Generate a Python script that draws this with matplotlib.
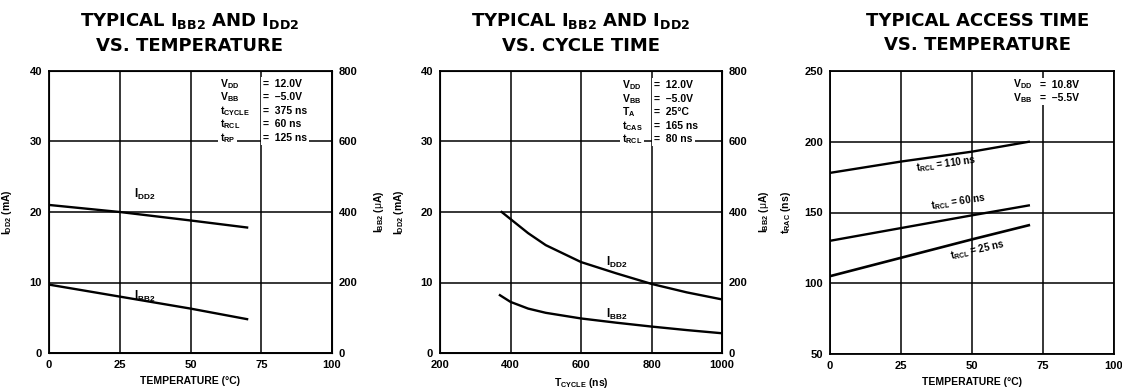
import numpy as np
import matplotlib.pyplot as plt

plt.rcParams['font.family'] = ['Liberation Sans', 'DejaVu Sans']
plt.rcParams['mathtext.fontset'] = 'custom'
plt.rcParams['mathtext.rm'] = 'Liberation Sans'
plt.rcParams['mathtext.bf'] = 'Liberation Sans:bold'
plt.rcParams['mathtext.it'] = 'Liberation Sans'

# panel 1: currents vs temperature
temp1 = [0, 25, 50, 70]
idd2_temp = [21.0, 20.0, 18.8, 17.8]      # mA
ibb2_temp = [194, 160, 126, 96]           # uA

# panel 2: currents vs cycle time
cycle = [375, 400, 450, 500, 600, 700, 800, 900, 1000]
idd2_cycle = [20.0, 19.0, 17.0, 15.3, 12.9, 11.3, 9.8, 8.6, 7.6]   # mA
cycle_b = [370, 400, 450, 500, 600, 700, 800, 900, 1000]
ibb2_cycle = [164, 145, 126, 114, 98, 86, 75, 65, 56]              # uA

# panel 3: access time vs temperature
temp3 = [0, 25, 50, 70]
trac_110 = [178, 186, 193, 200]
trac_60 = [130, 139, 148, 155]
trac_25 = [105, 118, 131, 141]

# test conditions printed in the corner of each panel
cond1 = [('V$_{\\mathbf{DD}}$', '=  12.0V'), ('V$_{\\mathbf{BB}}$', '=  –5.0V'),
         ('t$_{\\mathbf{CYCLE}}$', '=  375 ns'), ('t$_{\\mathbf{RCL}}$', '=  60 ns'),
         ('t$_{\\mathbf{RP}}$', '=  125 ns')]
cond2 = [('V$_{\\mathbf{DD}}$', '=  12.0V'), ('V$_{\\mathbf{BB}}$', '=  –5.0V'),
         ('T$_{\\mathbf{A}}$', '=  25°C'), ('t$_{\\mathbf{CAS}}$', '=  165 ns'),
         ('t$_{\\mathbf{RCL}}$', '=  80 ns')]
cond3 = [('V$_{\\mathbf{DD}}$', '=  10.8V'), ('V$_{\\mathbf{BB}}$', '=  –5.5V')]

W, H = 1122, 391
fig = plt.figure(figsize=(W / 100, H / 100), dpi=100)
bf = dict(fontweight='bold')


def px_axes(l, t, r, b):
    return fig.add_axes([l / W, 1 - b / H, (r - l) / W, (b - t) / H])


def style(ax, xt, yt):
    ax.set_xticks(xt)
    ax.set_yticks(yt)
    ax.grid(True, color='black', linewidth=1.1)
    ax.tick_params(length=0, labelsize=8, pad=5)
    for lab in ax.get_xticklabels() + ax.get_yticklabels():
        lab.set_fontweight('bold')
    for s in ax.spines.values():
        s.set_linewidth(1.3)


def right_axis(ax):
    axb = ax.twinx()
    axb.set_ylim(0, 800)
    axb.set_yticks([0, 200, 400, 600, 800])
    axb.tick_params(length=0, labelsize=8, pad=5)
    for lab in axb.get_yticklabels():
        lab.set_fontweight('bold')
    return axb


def xlabel(ax, s, y):
    ax.set_xlabel(s, fontsize=7.5, va='center', **bf)
    ax.xaxis.set_label_coords(0.5, y)


def conditions(ax, rows, xname, xval, ytop, step=0.048):
    for i, (name, val) in enumerate(rows):
        y = ytop - i * step
        ax.text(xname, y, name, transform=ax.transAxes, fontsize=7.5, va='center',
                bbox=dict(facecolor='white', edgecolor='none', pad=1.5), **bf)
        ax.text(xval, y, val, transform=ax.transAxes, fontsize=7.5, va='center',
                bbox=dict(facecolor='white', edgecolor='none', pad=1.5), **bf)


def title(x, s):
    fig.text(x / W, 1 - 33 / H, s, ha='center', va='center', fontsize=13,
             linespacing=1.4, family='DejaVu Sans', math_fontfamily='dejavusans', **bf)


# ---------- panel 1 ----------
ax1 = px_axes(49, 71, 332, 353)
ax1.set_xlim(0, 100)
ax1.set_ylim(0, 40)
style(ax1, [0, 25, 50, 75, 100], [0, 10, 20, 30, 40])
ax1.plot(temp1, idd2_temp, color='black', lw=1.7)
ax1b = right_axis(ax1)
ax1b.plot(temp1, ibb2_temp, color='black', lw=1.7)
xlabel(ax1, 'TEMPERATURE (°C)', -0.1)
ax1.set_ylabel(r'I$_{\mathbf{DD2}}$ (mA)', fontsize=7.5, **bf)
ax1.yaxis.set_label_coords(-0.125, 0.5)
ax1b.set_ylabel(r'I$_{\mathbf{BB2}}$ ($\mu$A)', fontsize=7.5, **bf)
ax1b.yaxis.set_label_coords(1.14, 0.5)
ax1.text(30, 22.0, r'I$_{\mathbf{DD2}}$', fontsize=8.5, **bf)
ax1.text(30, 7.6, r'I$_{\mathbf{BB2}}$', fontsize=8.5, **bf)
conditions(ax1, cond1, 0.603, 0.755, 0.955)
title(190, 'TYPICAL I$_{\\mathbf{BB2}}$ AND I$_{\\mathbf{DD2}}$\nVS. TEMPERATURE')

# ---------- panel 2 ----------
ax2 = px_axes(440, 71, 722, 353)
ax2.set_xlim(200, 1000)
ax2.set_ylim(0, 40)
style(ax2, [200, 400, 600, 800, 1000], [0, 10, 20, 30, 40])
ax2.plot(cycle, idd2_cycle, color='black', lw=1.7)
ax2b = right_axis(ax2)
ax2b.plot(cycle_b, ibb2_cycle, color='black', lw=1.7)
xlabel(ax2, r'T$_{\mathbf{CYCLE}}$ (ns)', -0.105)
ax2.set_ylabel(r'I$_{\mathbf{DD2}}$ (mA)', fontsize=7.5, **bf)
ax2.yaxis.set_label_coords(-0.12, 0.5)
ax2b.set_ylabel(r'I$_{\mathbf{BB2}}$ ($\mu$A)', fontsize=7.5, **bf)
ax2b.yaxis.set_label_coords(1.125, 0.5)
ax2.text(670, 12.4, r'I$_{\mathbf{DD2}}$', fontsize=8.5, **bf)
ax2.text(670, 5.0, r'I$_{\mathbf{BB2}}$', fontsize=8.5, **bf)
conditions(ax2, cond2, 0.645, 0.76, 0.95)
title(581, 'TYPICAL I$_{\\mathbf{BB2}}$ AND I$_{\\mathbf{DD2}}$\nVS. CYCLE TIME')

# ---------- panel 3 ----------
ax3 = px_axes(830, 71, 1114, 354)
ax3.set_xlim(0, 100)
ax3.set_ylim(50, 250)
style(ax3, [0, 25, 50, 75, 100], [50, 100, 150, 200, 250])
ax3.plot(temp3, trac_110, color='black', lw=1.7)
ax3.plot(temp3, trac_60, color='black', lw=1.7)
ax3.plot(temp3, trac_25, color='black', lw=1.9)
xlabel(ax3, 'TEMPERATURE (°C)', -0.1)
ax3.set_ylabel(r't$_{\mathbf{RAC}}$ (ns)', fontsize=7.5, **bf)
ax3.yaxis.set_label_coords(-0.13, 0.5)
ax3.text(41, 184, r't$_{\mathbf{RCL}}$ = 110 ns', fontsize=7, ha='center', va='center',
         rotation=8, **bf)
ax3.text(45, 157.5, r't$_{\mathbf{RCL}}$ = 60 ns', fontsize=7, ha='center', va='center',
         rotation=9, **bf)
ax3.text(52, 123.5, r't$_{\mathbf{RCL}}$ = 25 ns', fontsize=7, ha='center', va='center',
         rotation=13, **bf)
conditions(ax3, cond3, 0.643, 0.74, 0.952)
title(978, 'TYPICAL ACCESS TIME\nVS. TEMPERATURE')

fig.savefig('out.png', dpi=100)
